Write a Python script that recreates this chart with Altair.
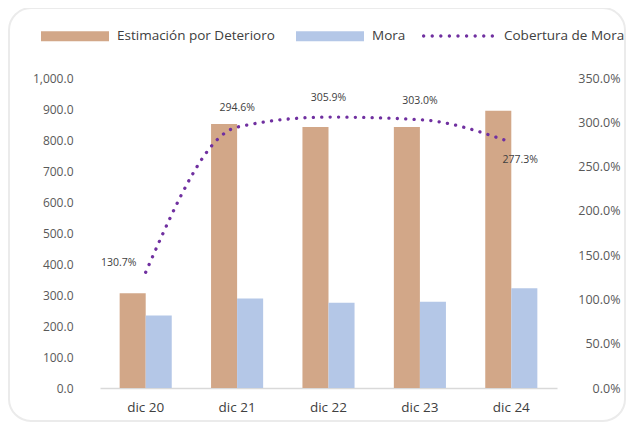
import altair as alt
import pandas as pd

# ---------------- data ----------------
categorias = ["dic 20", "dic 21", "dic 22", "dic 23", "dic 24"]
estimacion = [306, 852, 842, 842, 894]
mora = [234, 289, 275, 278, 322]
cobertura = [130.7, 294.6, 305.9, 303.0, 277.3]
series = ["Estimación por Deterioro", "Mora"]
serie_linea = "Cobertura de Mora"
left_ticks = [0, 100, 200, 300, 400, 500, 600, 700, 800, 900, 1000]
right_ticks = [0, 50, 100, 150, 200, 250, 300, 350]

bars_df = pd.DataFrame({
    "cat": categorias * 2,
    "serie": [series[0]] * len(categorias) + [series[1]] * len(categorias),
    "valor": estimacion + mora,
})
line_df = pd.DataFrame({"cat": categorias, "cob": cobertura, "serie": serie_linea})

# ---------------- style ----------------
FONT = "Open Sans"
W, H = 457, 310
TAN, BLUE, PURPLE = "#D2A788", "#B4C7E7", "#7030A0"
TXT, TICK = "#404040", "#595959"
LEG_FS = 13.5

RECT_PATH = "M-1,-0.147H1V0.147H-1Z"
r = 0.046
step = (2 - 2 * r) / 8
parts = []
for i in range(9):
    c = -1 + r + i * step
    parts.append(f"M{c - r:.4f},0A{r},{r} 0 1,0 {c + r:.4f},0A{r},{r} 0 1,0 {c - r:.4f},0Z")
DOTS_PATH = "".join(parts)

x_enc = alt.X(
    "cat:N", sort=categorias,
    scale=alt.Scale(paddingInner=0.43, paddingOuter=0.215),
    axis=alt.Axis(title=None, labelAngle=0, domain=True, domainColor="#D9D9D9",
                  domainWidth=1.5, ticks=False, grid=False, labelPadding=12,
                  labelFontSize=13.5, labelColor=TXT, labelFont=FONT),
)

y_left = alt.Y(
    "valor:Q", scale=alt.Scale(domain=[0, 1000], nice=False),
    axis=alt.Axis(orient="left", values=left_ticks, format=",.1f", title=None, grid=False,
                  domain=False, ticks=False, labelPadding=27, labelFontSize=12,
                  labelColor=TICK, labelFont=FONT),
)

y_right = alt.Y(
    "cob:Q", scale=alt.Scale(domain=[0, 350], nice=False),
    axis=alt.Axis(orient="right", values=right_ticks,
                  labelExpr="format(datum.value, '.1f') + '%'", title=None, grid=False,
                  domain=False, ticks=False, labelAlign="right", labelPadding=63,
                  labelFontSize=12.5, labelColor=TICK, labelFont=FONT),
)

frame = alt.Chart(alt.Data(values=[{"a": 1}])).mark_rect(
    fill="transparent", stroke="#EBEBEB", strokeWidth=2, cornerRadius=22
).encode(x=alt.value(-91), x2=alt.value(525), y=alt.value(-70), y2=alt.value(343))

bars = alt.Chart(bars_df).mark_bar().encode(
    x=x_enc,
    xOffset=alt.XOffset("serie:N", sort=series, scale=alt.Scale(paddingInner=0, paddingOuter=0)),
    y=y_left,
    color=alt.Color(
        "serie:N", sort=series, scale=alt.Scale(domain=series, range=[TAN, BLUE]),
        legend=alt.Legend(title=None, orient="none", legendX=-59, legendY=-76,
                          direction="horizontal", symbolType=RECT_PATH, symbolSize=4624,
                          symbolStrokeWidth=0, labelOffset=8, columnPadding=21,
                          labelLimit=400, labelFontSize=LEG_FS, labelColor=TXT,
                          labelFont=FONT, padding=0),
    ),
)

line = alt.Chart(line_df).mark_line(
    color=PURPLE, strokeWidth=3.3, strokeCap="round", interpolate="monotone"
).encode(
    x=x_enc,
    y=y_right,
    strokeDash=alt.StrokeDash(
        "serie:N", scale=alt.Scale(domain=[serie_linea], range=[[0.1, 8.3]]),
        legend=alt.Legend(title=None, orient="none", legendX=322, legendY=-78,
                          direction="horizontal", symbolType=DOTS_PATH, symbolSize=5184,
                          symbolFillColor=PURPLE, symbolStrokeWidth=0, labelOffset=10,
                          labelLimit=400, labelFontSize=LEG_FS, labelColor=TXT,
                          labelFont=FONT, padding=0),
    ),
)

lbl_base = alt.Chart(line_df).transform_calculate(lbl="format(datum.cob, '.1f') + '%'")
text_style = dict(fontSize=10.5, color=TXT, font=FONT)
t_first = lbl_base.transform_filter(alt.datum.cat == categorias[0]).mark_text(
    dx=-27, dy=-9, **text_style).encode(x=x_enc, y=y_right, text="lbl:N")
t_mid = lbl_base.transform_filter(
    alt.FieldOneOfPredicate(field="cat", oneOf=categorias[1:4])).mark_text(
    dy=-19, **text_style).encode(x=x_enc, y=y_right, text="lbl:N")
t_last = lbl_base.transform_filter(alt.datum.cat == categorias[4]).mark_text(
    dx=9, dy=18, **text_style).encode(x=x_enc, y=y_right, text="lbl:N")

chart = alt.layer(
    frame, bars, alt.layer(line, t_first, t_mid, t_last)
).resolve_scale(y="independent").properties(
    width=W, height=H,
    padding={"left": 92, "top": 70, "right": 70, "bottom": 35},
    autosize=alt.AutoSizeParams(type="none"),
).configure(
    font=FONT
).configure_view(
    stroke=None, strokeWidth=0
).configure_axisY(
    domain=False, grid=False, ticks=False
)

chart.save("out.html", embed_options={"renderer": "svg", "actions": False})
